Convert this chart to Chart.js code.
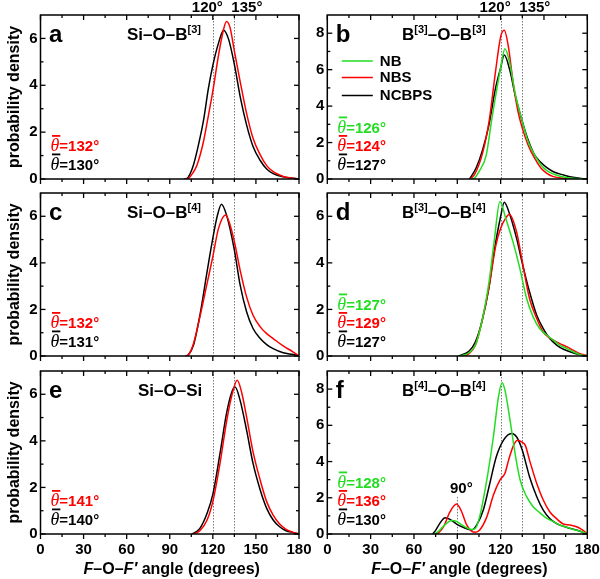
<!DOCTYPE html>
<html>
<head>
<meta charset="utf-8">
<script src="https://cdn.jsdelivr.net/npm/chart.js@4.4.0/dist/chart.umd.min.js"></script>
<style>
html, body { margin: 0; padding: 0; background: #fff; }
#wrap { position: relative; width: 600px; height: 579px; }
#wrap canvas { position: absolute; left: 0; top: 0; }
</style>
</head>
<body>
<div id="wrap">
  <canvas id="pa" width="600" height="579"></canvas>
  <canvas id="pb" width="600" height="579"></canvas>
  <canvas id="pc" width="600" height="579"></canvas>
  <canvas id="pd" width="600" height="579"></canvas>
  <canvas id="pe" width="600" height="579"></canvas>
  <canvas id="pf" width="600" height="579"></canvas>
</div>
<script>
// ---- data (angle in degrees, probability density) ----
// a: Si-O-B[3]
const aAngNCBPS = [100,102,104,106.5,110,113.5,117,120,124,127.5,131,135,139,143.5,148,153,157.5,162,169,176,180];
const aNCBPS    = [0,0.02,0.2,0.6,1.46,2.5,3.9,4.85,5.81,6.35,5.96,4.89,3.53,2.31,1.39,0.79,0.43,0.23,0.09,0.03,0];
const aAngNBS   = [101,103,106,109,113.5,117,120,124,127.5,129.5,132,135,139,143.5,148,153,157.5,162,169,176,180];
const aNBS      = [0,0.03,0.25,0.6,1.6,2.74,3.75,5.3,6.39,6.72,6.46,5.46,4.17,2.8,1.74,1.03,0.57,0.31,0.11,0.03,0];

// b: B[3]-O-B[3]
const bAngNB    = [100,102,105,110,114,117.5,120,123,126.5,130,135,139,143.5,148,152,157,163.5,170,177,180];
const bNB       = [0,0.05,0.4,1.3,3.35,5.0,6.1,7.15,6.29,4.72,3.16,2.06,1.32,0.77,0.46,0.26,0.11,0.04,0.01,0];
const bAngNBS   = [99,102,107.5,112,116.5,120,122.5,125.5,128.5,132,135,139,143.5,148,152,156.5,163.5,170,180];
const bNBS      = [0,0.25,1.42,3.16,5.92,7.8,8.16,7.2,5.37,3.71,2.79,1.87,1.14,0.59,0.31,0.13,0.04,0.01,0];
const bAngNCBPS = [98.5,103,107.5,112,116.5,120,122.5,126.5,130,135,139,143.5,148,152,156.5,163.5,170,177,180];
const bNCBPS    = [0,0.6,1.6,3.0,5.0,6.1,6.8,5.92,4.63,3.16,2.15,1.32,0.9,0.62,0.4,0.22,0.09,0.02,0];

// c: Si-O-B[4]
const cAngNCBPS = [101,103,106.5,111,116,120,123,126,129.5,135,139,143.5,148,153,157.5,162,169,176,180];
const cNCBPS    = [0,0.05,0.46,1.75,3.62,5.06,5.99,6.52,6.06,4.55,3.05,1.9,1.18,0.75,0.49,0.32,0.14,0.06,0];
const cAngNBS   = [101,103,106.5,111,116,120,124,129,132,135,139,143.5,148,153,157.5,162,169,176,180];
const cNBS      = [0,0.05,0.53,1.68,3.12,4.27,5.49,6.06,5.63,4.91,3.69,2.54,1.75,1.25,0.96,0.75,0.43,0.17,0];

// d: B[3]-O-B[4]
const dAngNB    = [92,98,102.5,107,112,115.5,119.5,123.5,128.5,133,138,142.5,147,152,156.5,161,166,170.5,175,180];
const dNB       = [0,0.14,0.46,1.47,3.19,4.91,6.64,5.92,4.91,3.84,2.47,1.68,1.18,0.89,0.68,0.46,0.32,0.17,0.06,0];
const dAngNBS   = [95,98,102.5,107,112,116.5,120,123.5,126,131,135,140,145,149.5,153,156.5,161,166,170.5,175,179,180];
const dNBS      = [0,0.1,0.46,1.47,2.97,4.7,5.49,5.92,6.09,5.34,4.05,2.47,1.61,1.03,0.82,0.68,0.53,0.39,0.24,0.1,0.03,0];
const dAngNCBPS = [91,98,102.5,107,112,115.5,120,122.5,126,131,135,140,145,149.5,154,159,163.5,170.5,177.5,180];
const dNCBPS    = [0,0.2,0.6,1.47,2.97,4.48,5.99,6.6,6.14,5.06,3.98,2.76,1.75,1.18,0.75,0.46,0.29,0.13,0.03,0];

// e: Si-O-Si
const eAngNCBPS = [105.5,108,111,116,120,125,129.5,133,135.5,139,143.5,148,153,157.5,162,166.5,171,176,180];
const eNCBPS    = [0,0.08,0.24,0.89,1.7,3.46,5.17,6.06,6.31,5.74,4.46,3.03,1.89,1.1,0.6,0.31,0.14,0.06,0];
const eAngNBS   = [106.5,111,116,120,125,129.5,133,137,140,143.5,148,153,157.5,162,166.5,171,176,180];
const eNBS      = [0,0.14,0.6,1.39,3.03,4.81,5.89,6.6,6.1,5.03,3.53,2.31,1.39,0.81,0.43,0.2,0.07,0];

// f: B[4]-O-B[4]
const fAngNB    = [74,77,80,83,86,89.5,93,97.5,100,102.5,105.5,110,115,118.5,121,123,126.5,130,133.5,138,142.5,147,152,156.5,161,166,170,175,180];
const fNB       = [0,0.15,0.4,0.62,0.74,0.7,0.5,0.3,0.25,0.31,0.96,2.79,5.37,7.57,8.35,7.94,6.29,4.45,2.98,2.06,1.51,1.18,0.86,0.68,0.5,0.37,0.26,0.15,0];
const fAngNBS   = [75,77.5,80.5,85,89.5,93,96.5,100,102.5,105.5,110.5,115,119.5,123,125.5,129,132,134.5,137,140,145,149.5,154,158.5,163.5,168,172.5,176,178,180];
const fNBS      = [0,0.1,0.4,1.23,1.65,1.23,0.5,0.15,0.1,0.22,0.96,2.15,2.98,3.35,4.08,4.91,5.18,5.09,4.91,4.08,2.79,1.88,1.23,0.86,0.55,0.5,0.4,0.26,0.15,0];
const fAngNCBPS = [73,75,78,81.5,85,89.5,94,100,103.5,108,112.5,117,122,127.5,131,135,140,145,149.5,154,158.5,165.5,172.5,180];
const fNCBPS    = [0,0.2,0.6,0.9,0.81,0.55,0.37,0.22,0.5,1.32,2.79,4.26,5.18,5.55,5.37,4.63,3.16,2.06,1.32,0.86,0.59,0.37,0.22,0];

// mean angles
const thetaA = [['132', 'NBS'], ['130', 'NCBPS']];
const thetaB = [['126', 'NB'], ['124', 'NBS'], ['127', 'NCBPS']];
const thetaC = [['132', 'NBS'], ['131', 'NCBPS']];
const thetaD = [['127', 'NB'], ['129', 'NBS'], ['127', 'NCBPS']];
const thetaE = [['141', 'NBS'], ['140', 'NCBPS']];
const thetaF = [['128', 'NB'], ['136', 'NBS'], ['130', 'NCBPS']];

// ticks
const xTicks = [0, 30, 60, 90, 120, 150, 180];
const xMinor = [15, 45, 75, 105, 135, 165];
const yTicks7 = [0, 2, 4, 6];
const yMinor7 = [1, 3, 5];
const yTicks9 = [0, 2, 4, 6, 8];
const yMinor9 = [1, 3, 5, 7];
const refAngles = [120, 135];

const SANS = '"Liberation Sans", Arial, Helvetica, sans-serif';
const SERIF = '"Liberation Serif", "Times New Roman", serif';
const colors = { NB: '#22dd22', NBS: '#ff0000', NCBPS: '#000000' };

Chart.defaults.font.family = SANS;

const cols = [{ pad: 0, left: 40.5, right: 299 }, { pad: 300, left: 327.3, right: 587.3 }];
const rows = [{ top: 15, bottom: 179 }, { top: 193, bottom: 356 }, { top: 371, bottom: 534 }];
const X_AXIS_H = 25;

function zip(xs, ys) {
  return xs.map((x, i) => ({ x: x, y: ys[i] }));
}
function series(name, xs, ys) {
  return {
    label: name,
    data: zip(xs, ys),
    borderColor: colors[name],
    borderWidth: 1.5,
    pointRadius: 0,
    fill: false,
    cubicInterpolationMode: 'monotone'
  };
}

const panels = [
  { id: 'pa', col: 0, row: 0, letter: 'a', yMax: 7, yTicks: yTicks7, yMinor: yMinor7, titleX: 86.5,
    title: [['Si–O–B', 0], ['[3]', 1]], theta: thetaA,
    sets: [series('NBS', aAngNBS, aNBS), series('NCBPS', aAngNCBPS, aNCBPS)] },
  { id: 'pb', col: 1, row: 0, letter: 'b', yMax: 9, yTicks: yTicks9, yMinor: yMinor9, titleX: 74.7, legend: true,
    title: [['B', 0], ['[3]', 1], ['–O–B', 0], ['[3]', 1]], theta: thetaB,
    sets: [series('NB', bAngNB, bNB), series('NBS', bAngNBS, bNBS), series('NCBPS', bAngNCBPS, bNCBPS)] },
  { id: 'pc', col: 0, row: 1, letter: 'c', yMax: 7, yTicks: yTicks7, yMinor: yMinor7, titleX: 86.5,
    title: [['Si–O–B', 0], ['[4]', 1]], theta: thetaC,
    sets: [series('NBS', cAngNBS, cNBS), series('NCBPS', cAngNCBPS, cNCBPS)] },
  { id: 'pd', col: 1, row: 1, letter: 'd', yMax: 7, yTicks: yTicks7, yMinor: yMinor7, titleX: 74.7,
    title: [['B', 0], ['[3]', 1], ['–O–B', 0], ['[4]', 1]], theta: thetaD,
    sets: [series('NB', dAngNB, dNB), series('NBS', dAngNBS, dNBS), series('NCBPS', dAngNCBPS, dNCBPS)] },
  { id: 'pe', col: 0, row: 2, letter: 'e', yMax: 7, yTicks: yTicks7, yMinor: yMinor7, titleX: 97.5,
    title: [['Si–O–Si', 0]], theta: thetaE, bottomAxis: true,
    sets: [series('NBS', eAngNBS, eNBS), series('NCBPS', eAngNCBPS, eNCBPS)] },
  { id: 'pf', col: 1, row: 2, letter: 'f', yMax: 9, yTicks: yTicks9, yMinor: yMinor9, titleX: 74.7,
    title: [['B', 0], ['[4]', 1], ['–O–B', 0], ['[4]', 1]], theta: thetaF, bottomAxis: true, mark90: true,
    sets: [series('NB', fAngNB, fNB), series('NBS', fAngNBS, fNBS), series('NCBPS', fAngNCBPS, fNCBPS)] }
];

function drawParts(ctx, x, y, parts) {
  // parts: [text, font, dy]
  parts.forEach(p => {
    ctx.font = p[1];
    ctx.fillText(p[0], x, y + (p[2] || 0));
    x += ctx.measureText(p[0]).width;
  });
  return x;
}

function line(ctx, x1, y1, x2, y2) {
  ctx.beginPath();
  ctx.moveTo(x1, y1);
  ctx.lineTo(x2, y2);
  ctx.stroke();
}

function deco(p) {
  return {
    id: 'deco_' + p.id,
    beforeDatasetsDraw(chart) {
      const ctx = chart.ctx, a = chart.chartArea, xs = chart.scales.x, ys = chart.scales.y;
      ctx.save();
      ctx.strokeStyle = '#7a7a7a';
      ctx.lineWidth = 1;
      ctx.setLineDash([1.5, 1.5]);
      refAngles.forEach(v => {
        const px = Math.round(xs.getPixelForValue(v)) + 0.5;
        line(ctx, px, a.top, px, a.bottom);
      });
      if (p.mark90) {
        const px = Math.round(xs.getPixelForValue(90)) + 0.5;
        line(ctx, px, ys.getPixelForValue(2.05), px, a.bottom);
      }
      ctx.restore();
    },
    afterDraw(chart) {
      const ctx = chart.ctx, a = chart.chartArea, xs = chart.scales.x, ys = chart.scales.y;
      ctx.save();
      // frame
      ctx.strokeStyle = '#000';
      ctx.lineWidth = 1.5;
      ctx.strokeRect(a.left, a.top, a.right - a.left, a.bottom - a.top);
      // ticks
      ctx.lineWidth = 1.3;
      xTicks.forEach(v => {
        const px = xs.getPixelForValue(v);
        line(ctx, px, a.bottom, px, a.bottom + 5);
        line(ctx, px, a.top, px, a.top + 5);
      });
      xMinor.forEach(v => {
        const px = xs.getPixelForValue(v);
        line(ctx, px, a.bottom, px, a.bottom + 3);
        line(ctx, px, a.top, px, a.top + 3);
      });
      p.yTicks.forEach(v => {
        const py = ys.getPixelForValue(v);
        line(ctx, a.left, py, a.left + 5, py);
        line(ctx, a.right, py, a.right - 5, py);
      });
      p.yMinor.forEach(v => {
        const py = ys.getPixelForValue(v);
        line(ctx, a.left, py, a.left + 3, py);
        line(ctx, a.right, py, a.right - 3, py);
      });

      ctx.fillStyle = '#000';
      ctx.textBaseline = 'alphabetic';
      ctx.textAlign = 'left';
      // panel letter
      ctx.font = 'bold 24px ' + SANS;
      ctx.fillText(p.letter, a.left + 8.5, a.top + 26.5);
      // title with superscripts
      drawParts(ctx, a.left + p.titleX, a.top + 24.5,
        p.title.map(t => t[1] ? [t[0], 'bold 11px ' + SANS, -7] : [t[0], 'bold 17px ' + SANS, 0]));

      // reference angle labels on top row
      if (p.row === 0) {
        ctx.font = 'bold 15px ' + SANS;
        ctx.textAlign = 'center';
        ctx.fillText('120°', xs.getPixelForValue(120) - 5.5, 12);
        ctx.fillText('135°', xs.getPixelForValue(135) + 12.5, 12);
        ctx.textAlign = 'left';
      }
      if (p.mark90) {
        ctx.font = 'bold 15px ' + SANS;
        ctx.textAlign = 'center';
        ctx.fillText('90°', xs.getPixelForValue(90) + 4, ys.getPixelForValue(2.05) - 4);
        ctx.textAlign = 'left';
      }

      // mean angle labels
      const n = p.theta.length;
      p.theta.forEach((t, i) => {
        const y = a.bottom - 9.5 - 18.5 * (n - 1 - i);
        const x = a.left + 10;
        ctx.fillStyle = colors[t[1]];
        ctx.font = 'italic 18px ' + SERIF;
        ctx.fillText('θ', x, y);
        const w = ctx.measureText('θ').width;
        ctx.fillRect(x + 1.5, y - 16, w - 0.5, 1.8);
        ctx.font = 'bold 15px ' + SANS;
        ctx.fillText('=' + t[0] + '°', x + w, y);
      });

      // legend
      if (p.legend) {
        chart.data.datasets.forEach((d, i) => {
          const y = a.top + [46, 62.5, 80.5][i];
          ctx.strokeStyle = d.borderColor;
          ctx.lineWidth = 1.5;
          line(ctx, a.left + 14.5, y, a.left + 45.5, y);
          ctx.fillStyle = '#000';
          ctx.font = 'bold 15px ' + SANS;
          ctx.textBaseline = 'middle';
          ctx.fillText(d.label, a.left + 52.5, y + 0.5);
          ctx.textBaseline = 'alphabetic';
        });
      }

      // axis titles
      ctx.fillStyle = '#000';
      if (p.col === 0) {
        ctx.save();
        ctx.translate(15, (a.top + a.bottom) / 2);
        ctx.rotate(-Math.PI / 2);
        ctx.font = 'bold 16px ' + SANS;
        ctx.textAlign = 'center';
        ctx.textBaseline = 'middle';
        ctx.fillText('probability density', 0, 0);
        ctx.restore();
      }
      if (p.bottomAxis) {
        const parts = [
          ['F', 'italic bold 16px ' + SANS],
          ['–O–', 'bold 16px ' + SANS],
          ['F′', 'italic bold 16px ' + SANS],
          [' angle (degrees)', 'bold 16px ' + SANS]
        ];
        let w = 0;
        parts.forEach(q => { ctx.font = q[1]; w += ctx.measureText(q[0]).width; });
        const cx = (a.left + a.right) / 2 + 2;
        drawParts(ctx, cx - w / 2, 574, parts);
      }
      ctx.restore();
    }
  };
}

panels.forEach(p => {
  const c = cols[p.col], r = rows[p.row];
  new Chart(document.getElementById(p.id), {
    type: 'line',
    data: { datasets: p.sets },
    options: {
      responsive: false,
      animation: false,
      events: [],
      layout: { padding: { left: c.pad, right: 600 - c.right, top: r.top, bottom: 579 - r.bottom - X_AXIS_H } },
      plugins: { legend: { display: false }, tooltip: { enabled: false } },
      scales: {
        x: {
          type: 'linear', min: 0, max: 180,
          grid: { display: false, drawTicks: false },
          border: { display: false },
          afterBuildTicks: s => { s.ticks = xTicks.map(v => ({ value: v })); },
          afterFit: s => { s.height = X_AXIS_H; s.paddingLeft = 0; s.paddingRight = 0; },
          ticks: { display: !!p.bottomAxis, autoSkip: false, maxRotation: 0, padding: 7,
                   color: '#000', font: { size: 15, weight: 'bold' } }
        },
        y: {
          type: 'linear', min: 0, max: p.yMax,
          grid: { display: false, drawTicks: false },
          border: { display: false },
          afterBuildTicks: s => { s.ticks = p.yTicks.map(v => ({ value: v })); },
          afterFit: s => { s.width = c.left - c.pad; s.paddingTop = 0; s.paddingBottom = 0; },
          ticks: { padding: 3, color: '#000', font: { size: 15, weight: 'bold' } }
        }
      }
    },
    plugins: [deco(p)]
  });
});
</script>
</body>
</html>
